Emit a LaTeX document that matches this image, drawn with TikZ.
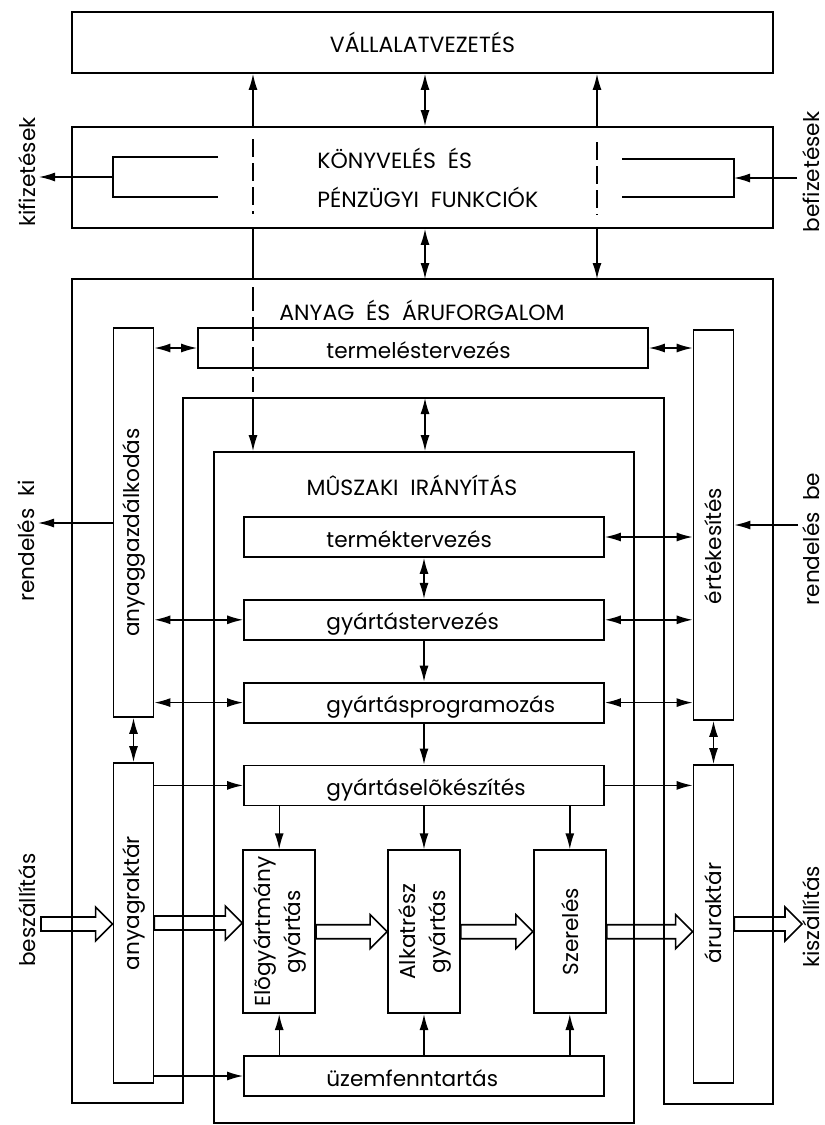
\documentclass[tikz,border=0pt]{standalone}
\usepackage{fontspec}
\setmainfont{Poppins}
\usetikzlibrary{arrows.meta,calc,positioning}

\newcommand{\boxfont}{\fontsize{10.8}{15}\selectfont}
\newcommand{\capfont}{\fontsize{11}{19.5}\selectfont}
% hollow material flow arrow, from #1 to the tip #2
\newcommand{\flow}[2]{%
  \draw[flowline] let \p1=#1, \p2=#2 in
    (\x1,\y1+3.5pt) -- (\x2-8.5pt,\y1+3.5pt) -- (\x2-8.5pt,\y1+8.5pt) -- (\x2,\y1)
    -- (\x2-8.5pt,\y1-8.5pt) -- (\x2-8.5pt,\y1-3.5pt) -- (\x1,\y1-3.5pt) -- cycle;}

\begin{document}
\begin{tikzpicture}[x=0.5pt,y=-0.5pt,node distance=20.5pt,
    >={Latex[length=8pt,width=4.5pt]},
    frame/.style={draw=black,line width=0.9pt},
    box/.style={rectangle,frame,inner sep=0pt},
    wide/.style={box,minimum width=180pt,minimum height=20pt},
    post/.style={box,minimum width=20pt,font=\boxfont},
    work/.style={box,minimum width=36pt,minimum height=81.5pt,font=\boxfont},
    txt/.style={inner sep=0pt,font=\boxfont},
    caps/.style={inner sep=0pt,font=\capfont},
    link/.style={line width=0.7pt},
    flowline/.style={line width=0.8pt}]

  \useasboundingbox (0,0) rectangle (825,1125);

  \coordinate (colL) at (253,0);
  \coordinate (colM) at (425,0);
  \coordinate (colR) at (597,0);

  % management and accounting
  \node[box,minimum width=350.5pt,minimum height=30.5pt,font=\capfont] (vezetes) at (422.5,42.5) {VÁLLALATVEZETÉS};
  \node[box,minimum width=350.5pt,minimum height=50.5pt] (konyv) at (422.5,177.5) {};
  \node[caps,anchor=west,align=left] (konyvtxt) at (317,178) {KÖNYVELÉS\ \ ÉS\\PÉNZÜGYI\ \ FUNKCIÓK};

  \draw[link] (218,157) -| (113,197) -- (218,197);
  \draw[link] (622,159) -| (734,197) -- (622,197);
  \draw[link,dash pattern=on 9pt off 3pt] (colL |- 0,139) -- (colL |- 0,214);
  \draw[link,dash pattern=on 9pt off 3pt] (colR |- 0,142) -- (colR |- 0,215);
  \coordinate (kiL) at (113,177);
  \coordinate (kifiz) at (39,177);
  \coordinate (beR) at (734,178);
  \coordinate (befiz) at (797,178);

  % material and goods flow
  \draw[frame] (183,1103) -- (72,1103) -- (72,279) -- (773,279) -- (773,1104)
    -- (664,1104) -- (664,398) -- (183,398) -- cycle;
  \node[caps] (anyagtxt) at (422,310) {ANYAG\ \ ÉS\ \ ÁRUFORGALOM};
  \coordinate (ringtop) at (422,279);
  \coordinate (innertop) at (424,398);

  \node[wide,minimum width=225pt] (termeles) at (423,348) {};
  \node[post,minimum height=194.5pt] (anyaggazd) at (133.5,522.5) {\rotatebox{90}{anyaggazdálkodás\hspace*{10pt}}};
  \node[post,minimum height=160pt] (anyagraktar) at (133.5,923) {\rotatebox{90}{\hspace*{20pt}anyagraktár}};
  \node[post,minimum height=195pt] (ertek) at (713.5,525) {\rotatebox{90}{értékesítés\hspace*{21pt}}};
  \node[post,minimum height=159pt] (aruraktar) at (713.5,924) {\rotatebox{90}{\hspace*{11pt}áruraktár}};

  % engineering
  \node[box,minimum width=210pt,minimum height=335.5pt] (muszaki) at (424,787.5) {};
  \node[caps] (muszakitxt) at (412,485) {MÛSZAKI\ \ IRÁNYÍTÁS};

  \node[wide] (termek) at (424,537) {};
  \node[wide,below=of termek] (gyterv) {};
  \node[wide,below=of gyterv] (gyprog) {};
  \node[wide,below=of gyprog] (gyelo) {};
  \node[work,below=21.5pt of gyelo] (alkatresz) {\rotatebox{90}{\begin{tabular}{@{}c@{}}Alkatrész\\gyártás\end{tabular}}};
  \node[work,left=35.5pt of alkatresz] (elogy) {\rotatebox{90}{\begin{tabular}{@{}c@{}}Elõgyártmány\\gyártás\end{tabular}}};
  \node[work,right=36pt of alkatresz] (szereles) {\rotatebox{90}{Szerelés}};
  \node[wide,below=of alkatresz] (uzem) {};

  \foreach \n/\t in {termeles/termeléstervezés,termek/terméktervezés,
      gyterv/gyártástervezés,gyprog/gyártásprogramozás,
      gyelo/gyártáselõkészítés,uzem/üzemfenntartás}
    \node[txt,anchor=base west,yshift=-5pt] (\n-txt) at (326,0 |- \n) {\t};

  % side labels
  \node[txt,rotate=90] (kifiztxt) at (27,172) {kifizetések};
  \node[txt,rotate=90] (befiztxt) at (811,172) {befizetések};
  \node[txt,rotate=90] (rendkitxt) at (26,541) {rendelés\ \ ki};
  \node[txt,rotate=90] (rendbetxt) at (811,539) {rendelés\ \ be};
  \node[txt,rotate=90] (beszalltxt) at (27,910) {beszállítás};
  \node[txt,rotate=90] (kiszalltxt) at (811,917) {kiszállítás};
  \coordinate (rendki) at (38,523);
  \coordinate (rendbe) at (798,525);
  \coordinate (beszall) at (41,924);
  \coordinate (kiszall) at (802,924);

  % information links
  \draw[link] (konyv.south -| colL) -- (ringtop -| colL);
  \draw[link,dash pattern=on 12pt off 3pt] (253,287) -- (253,392);
  \path[link,->]
    (konyv.north -| colL) edge (vezetes.south -| colL)
    (konyv.north -| colR) edge (vezetes.south -| colR)
    (konyv.south -| colR) edge (ringtop -| colR)
    (innertop -| colL) edge (muszaki.north -| colL)
    (kiL) edge (kifiz)
    (befiz) edge (beR)
    (anyaggazd.west |- rendki) edge (rendki)
    (rendbe) edge (ertek.east |- rendbe)
    (gyterv) edge (gyprog)
    (gyprog) edge (gyelo)
    (anyagraktar.east |- gyelo) edge (gyelo.west)
    (gyelo.east) edge (aruraktar.west |- gyelo)
    (anyagraktar.east |- uzem) edge (uzem.west)
    (gyelo.south -| elogy) edge (elogy.north)
    (gyelo.south) edge (alkatresz.north)
    (gyelo.south -| szereles) edge (szereles.north)
    (uzem.north -| elogy) edge (elogy.south)
    (uzem.north) edge (alkatresz.south)
    (uzem.north -| szereles) edge (szereles.south);
  \path[link,<->]
    (konyv.north -| colM) edge (vezetes.south -| colM)
    (konyv.south -| colM) edge (ringtop -| colM)
    (innertop -| colM) edge (muszaki.north -| colM)
    (anyaggazd.east |- termeles) edge (termeles.west)
    (termeles.east) edge (ertek.west |- termeles)
    (termek.east) edge (ertek.west |- termek)
    (termek) edge (gyterv)
    (anyaggazd.east |- gyterv) edge (gyterv.west)
    (gyterv.east) edge (ertek.west |- gyterv)
    (anyaggazd.east |- gyprog) edge (gyprog.west)
    (gyprog.east) edge (ertek.west |- gyprog)
    (anyaggazd) edge (anyagraktar)
    (ertek) edge (aruraktar);

  % material flow
  \flow{(beszall)}{(anyagraktar.west)}
  \flow{(anyagraktar.east)}{(elogy.west)}
  \flow{(elogy.east)}{(alkatresz.west)}
  \flow{(alkatresz.east)}{(szereles.west)}
  \flow{(szereles.east)}{(aruraktar.west)}
  \flow{(aruraktar.east)}{(kiszall)}
\end{tikzpicture}
\end{document}
